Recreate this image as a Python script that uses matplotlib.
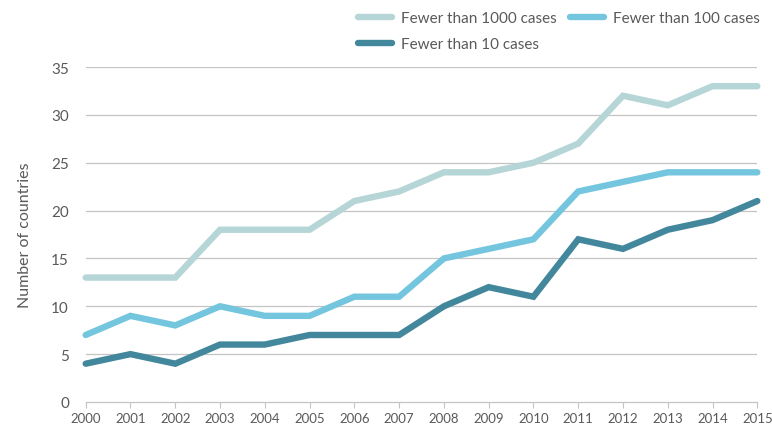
import matplotlib.pyplot as plt

# ==========================================
# DATA
# ==========================================
years = list(range(2000, 2016))
under_1000 = [13, 13, 13, 18, 18, 18, 21, 22, 24, 24, 25, 27, 32, 31, 33, 33]
under_100 = [7, 9, 8, 10, 9, 9, 11, 11, 15, 16, 17, 22, 23, 24, 24, 24]
under_10 = [4, 5, 4, 6, 6, 7, 7, 7, 10, 12, 11, 17, 16, 18, 19, 21]

y_ticks = [0, 5, 10, 15, 20, 25, 30, 35]

plt.rcParams['font.family'] = ['Lato', 'DejaVu Sans']
TEXT = '#5a5a5a'
GRID = '#c4c4c4'

fig = plt.figure(figsize=(7.72, 4.35), dpi=100)
ax = fig.add_axes([0.111, 0.0736, 0.870, 0.770])

lw = 4.6
l1, = ax.plot(years, under_1000, color='#b5d5d6', lw=lw, solid_capstyle='round',
              solid_joinstyle='miter', label='Fewer than 1000 cases', clip_on=False, zorder=3)
l2, = ax.plot(years, under_100, color='#74c6df', lw=lw, solid_capstyle='round',
              solid_joinstyle='miter', label='Fewer than 100 cases', clip_on=False, zorder=3)
l3, = ax.plot(years, under_10, color='#43879d', lw=lw, solid_capstyle='round',
              solid_joinstyle='miter', label='Fewer than 10 cases', clip_on=False, zorder=3)

ax.set_xlim(2000, 2015)
ax.set_ylim(0, 35)
ax.set_xticks(years)
ax.set_yticks(y_ticks)

for y in y_ticks[1:]:
    ax.axhline(y, color=GRID, lw=0.9, zorder=1)

for s in ['top', 'right', 'left']:
    ax.spines[s].set_visible(False)
ax.spines['bottom'].set_color(GRID)
ax.spines['bottom'].set_linewidth(0.9)

ax.tick_params(axis='y', length=0, labelsize=11, labelcolor=TEXT, pad=12)
ax.tick_params(axis='x', length=4, color=GRID, labelsize=9.5, labelcolor=TEXT, pad=3)

ax.set_ylabel('Number of countries', fontsize=11.5, color=TEXT, labelpad=14)

leg = fig.legend(handles=[l1, l3, l2], ncol=2, loc='upper left',
                 bbox_to_anchor=(0.446, 1.004), frameon=False, fontsize=11,
                 handlelength=2.2, handletextpad=0.6, columnspacing=0.9,
                 labelspacing=0.8)
for t in leg.get_texts():
    t.set_color(TEXT)

fig.savefig('out.png', dpi=100)
